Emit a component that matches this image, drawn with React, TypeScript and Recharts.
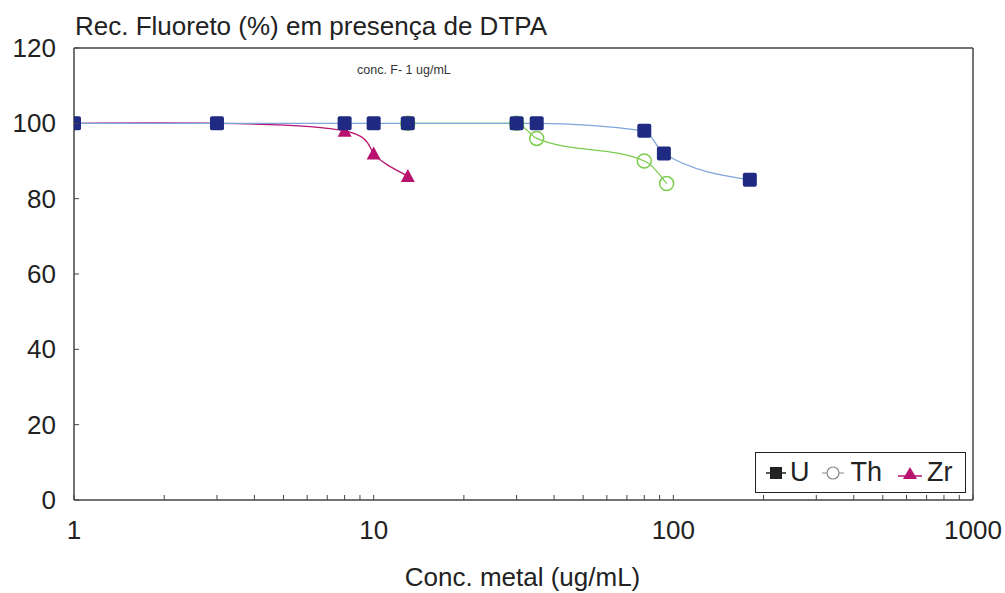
import React from 'react';
import { LineChart, Line, XAxis, YAxis, ReferenceLine } from 'recharts';

// Rec. fluoreto (%) vs conc. metal (ug/mL)
const uData = [
  { x: 1, y: 100 },
  { x: 3, y: 100 },
  { x: 8, y: 100 },
  { x: 10, y: 100 },
  { x: 13, y: 100 },
  { x: 30, y: 100 },
  { x: 35, y: 100 },
  { x: 80, y: 98 },
  { x: 93, y: 92 },
  { x: 180, y: 85 },
];

const thData = [
  { x: 13, y: 100 },
  { x: 30, y: 100 },
  { x: 35, y: 96 },
  { x: 80, y: 90 },
  { x: 95, y: 84 },
];

const zrData = [
  { x: 1, y: 100 },
  { x: 3, y: 100 },
  { x: 8, y: 98 },
  { x: 10, y: 92 },
  { x: 13, y: 86 },
];

const xTicks = [
  1, 2, 3, 4, 5, 6, 7, 8, 9,
  10, 20, 30, 40, 50, 60, 70, 80, 90,
  100, 200, 300, 400, 500, 600, 700, 800, 900,
  1000,
];
const xLabels = [1, 10, 100, 1000];
const yTicks = [0, 20, 40, 60, 80, 100, 120];

const FONT = '"Liberation Sans", Arial, sans-serif';
const U_MARK = '#1f2a82';
const U_LINE = '#7fa6da';
const TH_COLOR = '#7ccb4e';
const ZR_COLOR = '#b8126f';

const XTick = (props: any) => {
  const { x, y, payload } = props;
  const v = payload.value;
  return (
    <g>
      <line x1={x} y1={y} x2={x} y2={y - 5} stroke="#444" strokeWidth={1} />
      {xLabels.includes(v) && (
        <text x={x} y={y + 39} textAnchor="middle" fontSize={26} fill="#222" fontFamily={FONT}>
          {v}
        </text>
      )}
    </g>
  );
};

const YTick = (props: any) => {
  const { x, y, payload } = props;
  return (
    <g>
      <line x1={x} y1={y} x2={x + 5} y2={y} stroke="#444" strokeWidth={1} />
      <text x={x - 18} y={y + 9} textAnchor="end" fontSize={26} fill="#222" fontFamily={FONT}>
        {payload.value}
      </text>
    </g>
  );
};

const SquareDot = (props: any) => {
  const { cx, cy } = props;
  return <rect x={cx - 7} y={cy - 7} width={14} height={14} rx={2} fill={U_MARK} />;
};

const CircleDot = (props: any) => {
  const { cx, cy } = props;
  return <circle cx={cx} cy={cy} r={7} fill="#fff" fillOpacity={0} stroke={TH_COLOR} strokeWidth={1.5} />;
};

const TriangleDot = (props: any) => {
  const { cx, cy } = props;
  return <polygon points={`${cx},${cy - 7} ${cx + 7},${cy + 6} ${cx - 7},${cy + 6}`} fill={ZR_COLOR} />;
};

const LegendBox = () => (
  <div
    style={{
      position: 'absolute',
      left: 755,
      top: 452,
      width: 211,
      height: 41,
      border: '1.5px solid #222',
      background: '#fff',
      display: 'flex',
      alignItems: 'center',
      fontFamily: FONT,
      fontSize: 27,
      color: '#222',
      boxSizing: 'border-box',
    }}
  >
    <svg width={24} height={20} style={{ marginLeft: 10 }}>
      <line x1={0} y1={10} x2={20} y2={10} stroke="#222" strokeWidth={1.5} />
      <rect x={4} y={4} width={12} height={12} fill="#222" />
    </svg>
    <span>U</span>
    <svg width={26} height={20} style={{ marginLeft: 12 }}>
      <line x1={0} y1={10} x2={22} y2={10} stroke="#888" strokeWidth={1} />
      <circle cx={11} cy={10} r={6} fill="#fff" stroke="#888" strokeWidth={1.2} />
    </svg>
    <span style={{ marginLeft: 3 }}>Th</span>
    <svg width={26} height={20} style={{ marginLeft: 16 }}>
      <line x1={0} y1={13} x2={24} y2={13} stroke={ZR_COLOR} strokeWidth={1.5} />
      <polygon points="12,4 19,16 5,16" fill={ZR_COLOR} />
    </svg>
    <span style={{ marginLeft: 3 }}>Zr</span>
  </div>
);

const App: React.FC = () => {
  return (
    <div style={{ position: 'absolute', top: 0, left: 0, width: 1005, height: 593, background: '#fff', fontFamily: FONT }}>
      <LineChart
        width={1005}
        height={593}
        margin={{ top: 48, right: 32, bottom: 43, left: 0 }}
      >
        <XAxis
          dataKey="x"
          type="number"
          scale="log"
          domain={[1, 1000]}
          ticks={xTicks}
          interval={0}
          allowDataOverflow
          tick={<XTick />}
          tickLine={false}
          tickSize={0}
          tickMargin={0}
          height={50}
          axisLine={{ stroke: '#444', strokeWidth: 1.5 }}
        />
        <YAxis
          type="number"
          domain={[0, 120]}
          ticks={yTicks}
          interval={0}
          tick={<YTick />}
          tickLine={false}
          tickSize={0}
          tickMargin={0}
          width={74}
          axisLine={{ stroke: '#444', strokeWidth: 1.5 }}
        />
        <ReferenceLine y={120} stroke="#444" strokeWidth={1.5} />
        <ReferenceLine x={1000} stroke="#444" strokeWidth={1.5} />
        <Line
          data={thData}
          dataKey="y"
          name="Th"
          type="monotone"
          stroke={TH_COLOR}
          strokeWidth={1.3}
          dot={<CircleDot />}
          activeDot={false}
          isAnimationActive={false}
        />
        <Line
          data={zrData}
          dataKey="y"
          name="Zr"
          type="natural"
          stroke={ZR_COLOR}
          strokeWidth={1.3}
          dot={<TriangleDot />}
          activeDot={false}
          isAnimationActive={false}
        />
        <Line
          data={uData}
          dataKey="y"
          name="U"
          type="monotone"
          stroke={U_LINE}
          strokeWidth={1.3}
          dot={<SquareDot />}
          activeDot={false}
          isAnimationActive={false}
        />
      </LineChart>
      <div style={{ position: 'absolute', left: 75, top: 11, fontSize: 26, color: '#222', whiteSpace: 'nowrap' }}>
        Rec. Fluoreto (%) em presença de DTPA
      </div>
      <div style={{ position: 'absolute', left: 357, top: 63, fontSize: 12.5, color: '#333', whiteSpace: 'nowrap' }}>
        conc. F- 1 ug/mL
      </div>
      <div style={{ position: 'absolute', left: 0, width: 1045, top: 562, textAlign: 'center', fontSize: 26, color: '#222' }}>
        Conc. metal (ug/mL)
      </div>
      <LegendBox />
    </div>
  );
};

export default App;
